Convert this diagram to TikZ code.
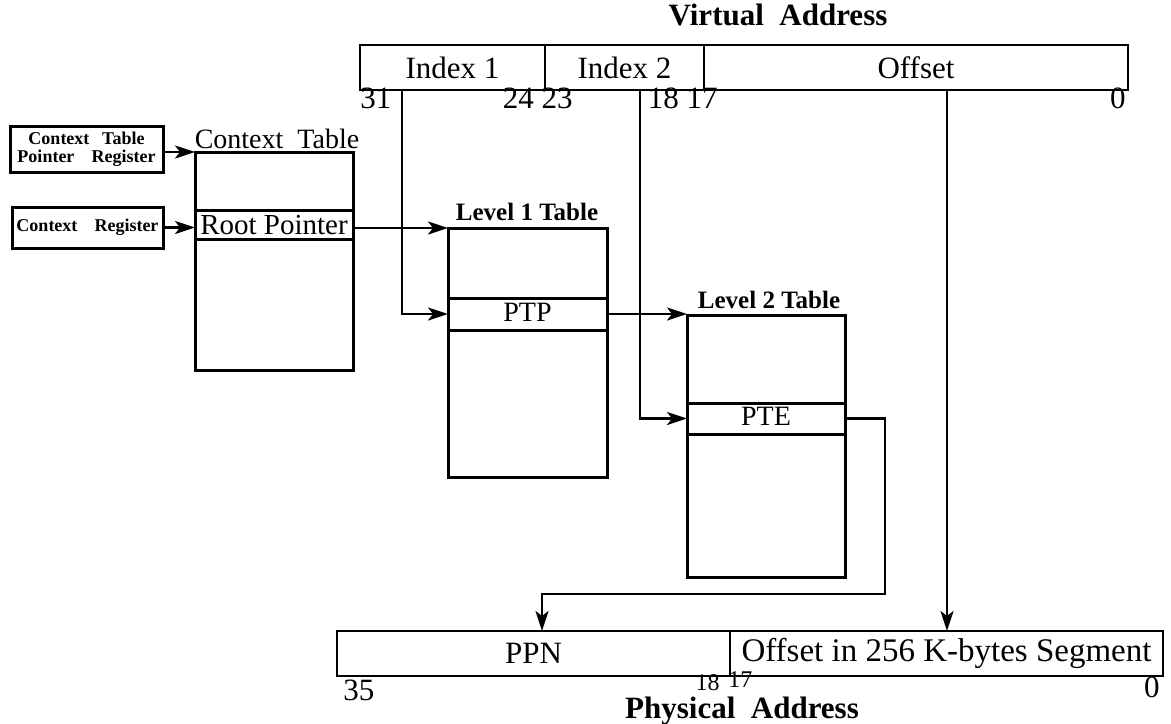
\documentclass[tikz,border=0pt]{standalone}
\usepackage{fontspec}
\setmainfont{Liberation Serif}
\usetikzlibrary{arrows.meta, positioning}
\tikzset{
  fieldbox/.style={rectangle, draw=black, line width=1.2pt, inner sep=0pt,
                   outer sep=0pt, anchor=north west, minimum height=22.5pt,
                   font=\fontsize{15.5}{17}\selectfont},
  regbox/.style={rectangle, draw=black, line width=1.5pt, inner sep=0pt,
                 outer sep=0pt, align=center,
                 font=\bfseries\fontsize{9}{10}\selectfont},
  tablebox/.style={rectangle, draw=black, line width=1.5pt, inner sep=0pt,
                   outer sep=0pt, anchor=north west},
  rowbox/.style={tablebox, text height=9.5pt, text depth=2.5pt,
                 font=\fontsize{14}{16}\selectfont},
  bitlabel/.style={inner sep=0pt, font=\fontsize{15.5}{17}\selectfont},
  smallbit/.style={inner sep=0pt, font=\fontsize{12}{14}\selectfont},
  titlelabel/.style={inner sep=0pt, anchor=base,
                     font=\bfseries\fontsize{15.5}{18}\selectfont},
  tablelabel/.style={inner sep=0pt, anchor=base,
                     font=\bfseries\fontsize{12.5}{14}\selectfont},
  arrow/.style={-{Stealth[length=10pt, width=6.5pt, inset=2.5pt]}, line width=1.2pt}
}
\begin{document}
\begin{tikzpicture}[x=0.5pt, y=-0.5pt]
  \useasboundingbox (0,0) rectangle (1171,723);

  % Virtual address
  \node[titlelabel] (vatitle) at (778,25) {Virtual\ \ Address};
  \node[fieldbox, minimum width=92.5pt] (idx1) at (360,45) {Index 1};
  \node[fieldbox, minimum width=79.5pt] (idx2) at (545,45) {Index 2};
  \node[fieldbox, minimum width=212pt] (voff) at (704,45) {Offset};
  \node[bitlabel, anchor=base west] (b31) at (360,108) {31};
  \node[bitlabel, anchor=base east] (b24) at (573,108) {24 23};
  \node[bitlabel, anchor=base east] (b18) at (718,108) {18 17};
  \node[bitlabel, anchor=base east] (b0) at (1126,108) {0};

  % Registers
  \node[regbox, minimum width=76.5pt, minimum height=23pt] (ctpr) at (86.5,149)
    {\makebox[58pt][s]{Context Table}\\[-1pt]\makebox[69pt][s]{Pointer Register}};
  \node[regbox, minimum width=75.5pt, minimum height=20.5pt] (creg) at (87.5,227.5)
    {\makebox[71pt][s]{Context Register}};

  % Context table
  \node[inner sep=0pt, anchor=base, font=\fontsize{14}{16}\selectfont] (ctlabel)
    at (277,148) {Context\ \ Table};
  \node[tablebox, minimum width=79pt, minimum height=109pt] (ctab) at (195,152) {};
  \node[rowbox, minimum width=79pt, minimum height=14.5pt, text height=11pt,
        text depth=1pt, font=\fontsize{14.5}{16}\selectfont] (rootp)
    at (195,210) {Root\ Pointer};

  % Level 1 table
  \node[tablelabel] (l1label) at (527,220) {Level 1 Table};
  \node[tablebox, minimum width=79.5pt, minimum height=124.5pt] (l1tab) at (448,228) {};
  \node[rowbox, minimum width=79.5pt, minimum height=16pt] (ptp) at (448,298) {PTP};

  % Level 2 table
  \node[tablelabel] (l2label) at (769,308) {Level 2 Table};
  \node[tablebox, minimum width=79pt, minimum height=131pt] (l2tab) at (687,315) {};
  \node[rowbox, minimum width=79pt, minimum height=15.5pt] (pte) at (687,403) {PTE};

  % Physical address
  \node[fieldbox, minimum width=196.5pt] (ppn) at (337,631) {PPN};
  \node[fieldbox, minimum width=216.5pt, font=\fontsize{16.5}{18}\selectfont] (poff)
    at (730,631) {Offset in 256 K-bytes Segment};
  \node[bitlabel, anchor=base west] (b35) at (343,700) {35};
  \node[smallbit, anchor=base east] (b18p) at (720,690) {18};
  \node[smallbit, anchor=base west] (b17p) at (728,687) {17};
  \node[bitlabel, anchor=base east] (b0p) at (1160,697) {0};
  \node[titlelabel] (patitle) at (742,718) {Physical\ \ Address};

  % Connectors
  \coordinate (ixonesrc) at (402,90);
  \coordinate (ixtwosrc) at (640,90);
  \coordinate (offsrc) at (947,90);
  \coordinate (ppnin) at (542,631);
  \draw[arrow] (ctpr.east |- ctab.north west) -- (ctab.north west);
  \draw[arrow] (creg.east) -- (creg.east -| ctab.west);
  \draw[arrow] (rootp.east |- l1tab.north west) -- (l1tab.north west);
  \draw[arrow] (ixonesrc) |- (ptp.west);
  \draw[arrow] (ptp.east) -- (ptp.east -| l2tab.west);
  \draw[arrow] (ixtwosrc) |- (pte.west);
  \draw[arrow] (pte.east) -| (885,594) -| (ppnin);
  \draw[arrow] (offsrc) -- (offsrc |- poff.north);
\end{tikzpicture}
\end{document}
